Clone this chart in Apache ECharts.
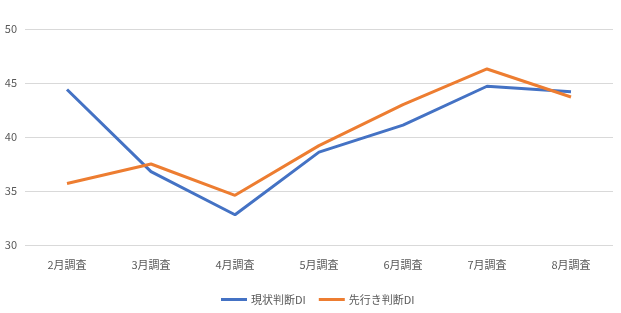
<!DOCTYPE html>
<html><head><meta charset="utf-8">
<script src="https://cdn.jsdelivr.net/npm/echarts@6/dist/echarts.min.js"></script>
<style>html,body{margin:0;padding:0;background:#fff}#c{width:621px;height:313px}</style>
</head><body><div id="c"></div>
<script>
const categories = ['2月調査','3月調査','4月調査','5月調査','6月調査','7月調査','8月調査'];
const currentDI = [44.4, 36.8, 32.8, 38.6, 41.1, 44.7, 44.2];
const outlookDI = [35.7, 37.5, 34.6, 39.2, 43.0, 46.3, 43.7];
const seriesNames = ['現状判断DI', '先行き判断DI'];
const font = '"Noto Sans CJK JP", sans-serif';
const chart = echarts.init(document.getElementById('c'));
chart.setOption({
  animation: false,
  grid: {left: 25, right: 8, top: 29, bottom: 68},
  legend: {
    top: 289, left: 216, itemWidth: 26, itemHeight: 3, itemGap: 13,
    icon: 'rect',
    textStyle: {fontFamily: font, fontSize: 11, color: '#595959', padding: [0, 0, 0, -1]},
    data: seriesNames
  },
  xAxis: {
    type: 'category', data: categories, boundaryGap: true,
    axisLine: {show: false}, axisTick: {show: false},
    axisLabel: {fontFamily: font, fontSize: 11, color: '#595959', margin: 14}
  },
  yAxis: {
    type: 'value', min: 30, max: 50, interval: 5,
    axisLabel: {fontFamily: font, fontSize: 11, color: '#595959', margin: 8},
    splitLine: {lineStyle: {color: '#d9d9d9', width: 1}},
    axisLine: {show: false}, axisTick: {show: false}
  },
  series: [
    {name: seriesNames[0], type: 'line', data: currentDI, showSymbol: false, symbol: 'none',
     lineStyle: {color: '#4472C4', width: 3}, itemStyle: {color: '#4472C4'}},
    {name: seriesNames[1], type: 'line', data: outlookDI, showSymbol: false, symbol: 'none',
     lineStyle: {color: '#ED7D31', width: 3}, itemStyle: {color: '#ED7D31'}}
  ]
});
</script></body></html>
